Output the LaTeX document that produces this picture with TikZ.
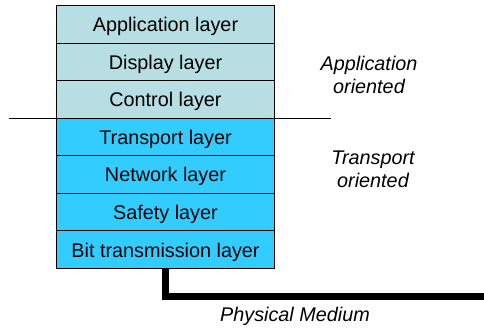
\documentclass[tikz,border=0pt]{standalone}
\usepackage{fontspec}
\setmainfont{Liberation Sans}
\definecolor{apppale}{RGB}{183,222,227}
\definecolor{transblue}{RGB}{51,204,255}
\begin{document}
\begin{tikzpicture}[x=1pt,y=-1pt,
  layer/.style={draw=black,line width=0.9pt,minimum width=217.6pt,minimum height=37.55pt,
    inner sep=0pt,text height=14.9pt,text depth=0pt,font=\fontsize{19.8}{22}\selectfont,anchor=center},
  applayer/.style={layer,fill=apppale},
  translayer/.style={layer,fill=transblue},
  side/.style={font=\fontsize{19.8}{23}\selectfont\itshape,align=center,inner sep=0pt}]
\useasboundingbox (0,0) rectangle (484,328);
% protocol stack
\node[applayer]   (app)  at (165.5,24.3)  {Application layer};
\node[applayer]   (disp) at (165.5,61.8)  {Display layer};
\node[applayer]   (ctrl) at (165.5,99.4)  {Control layer};
\node[translayer] (tran) at (165.5,136.9) {Transport layer};
\node[translayer] (net)  at (165.5,174.5) {Network layer};
\node[translayer] (saf)  at (165.5,212.0) {Safety layer};
\node[translayer] (bit)  at (165.5,249.6) {Bit transmission layer};
% separator between the two groups
\coordinate (sepL) at (9,118.2);
\coordinate (sepR) at (331,118.2);
\draw[line width=0.9pt] (sepL) -- (sepR);
% group labels
\node[side] (aor) at (369,74.5) {Application\\oriented};
\node[side] (tor) at (373,169.5) {Transport\\oriented};
% physical medium
\coordinate (medEnd) at (486,296.7);
\draw[line width=7.5pt,line join=miter] (bit.south) |- (medEnd);
\node[side] (phys) at (295,316.5) {Physical Medium};
\end{tikzpicture}
\end{document}
